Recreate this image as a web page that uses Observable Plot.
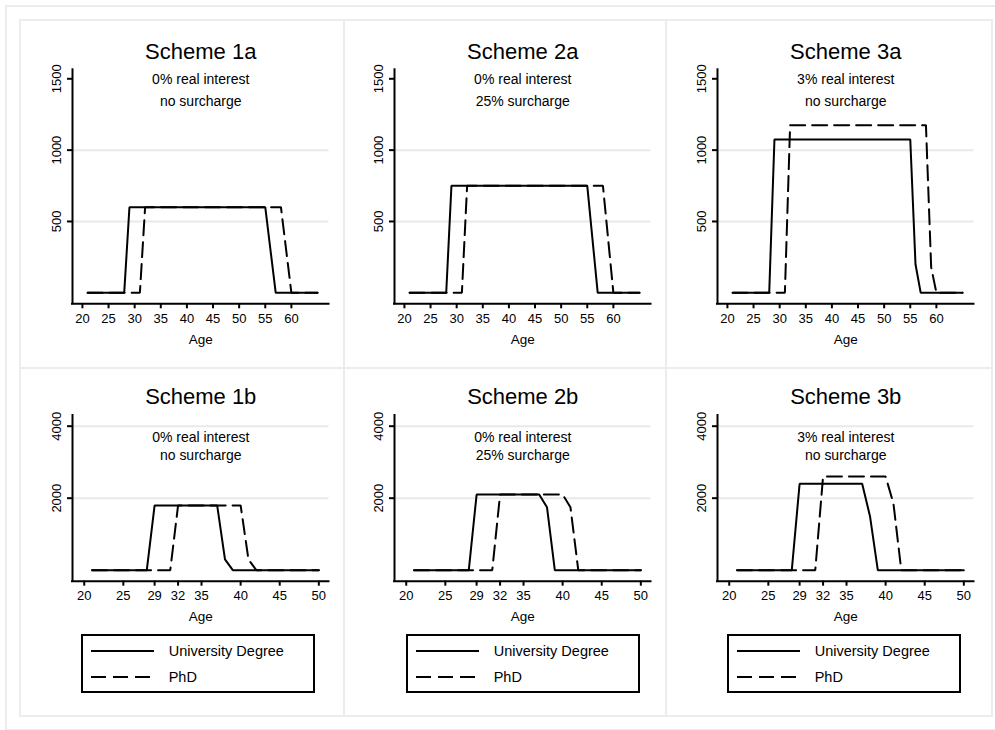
<!DOCTYPE html>
<html>
<head>
<meta charset="utf-8">
<script src="https://cdn.jsdelivr.net/npm/d3@7"></script>
<script src="https://cdn.jsdelivr.net/npm/@observablehq/plot@0.6"></script>
<style>
  html, body { margin: 0; padding: 0; background: #fff; }
  body { font-family: "Liberation Sans", Arial, Helvetica, sans-serif; }
  #root { position: relative; width: 995px; height: 730px; overflow: hidden; background: #fff; }
  .box { position: absolute; box-sizing: border-box; border: 2px solid #ececec; }
  .panel { position: absolute; }
  .legend { position: absolute; box-sizing: border-box; border: 2px solid #000; background: #fff; }
  .legend svg { position: absolute; left: 0; top: 0; }
  .legend span { position: absolute; font-size: 14.5px; line-height: 16px; color: #000; }
</style>
</head>
<body>
<div id="root"></div>
<script>
// ---------- data ----------
const agesTop = [21,22,23,24,25,26,27,28,29,30,31,32,33,34,35,36,37,38,39,40,41,42,43,44,45,46,47,48,49,50,51,52,53,54,55,56,57,58,59,60,61,62,63,64,65];
const agesBottom = [21,22,23,24,25,26,27,28,29,30,31,32,33,34,35,36,37,38,39,40,41,42,43,44,45,46,47,48,49,50];

// Scheme 1a (University Degree / PhD), ages 21..65
const uni1a = [0,0,0,0,0,0,0,0,
  600,600,600,600,600,600,600,600,600,
  600,600,600,600,600,600,600,600,600,
  600,600,600,600,600,600,600,600,600,
  300, 0,0,0,0,0,0,0,0,0];
const phd1a = [0,0,0,0,0,0,0,0,0,0,0,
  600,600,600,600,600,600,600,600,600,
  600,600,600,600,600,600,600,600,600,
  600,600,600,600,600,600,600,600,600,
  300, 0,0,0,0,0,0];
// Scheme 2a
const uni2a = [0,0,0,0,0,0,0,0,
  750,750,750,750,750,750,750,750,750,
  750,750,750,750,750,750,750,750,750,
  750,750,750,750,750,750,750,750,750,
  375, 0,0,0,0,0,0,0,0,0];
const phd2a = [0,0,0,0,0,0,0,0,0,0,0,
  750,750,750,750,750,750,750,750,750,
  750,750,750,750,750,750,750,750,750,
  750,750,750,750,750,750,750,750,750,
  375, 0,0,0,0,0,0];
// Scheme 3a
const uni3a = [0,0,0,0,0,0,0,0,
  1075,1075,1075,1075,1075,1075,1075,1075,1075,
  1075,1075,1075,1075,1075,1075,1075,1075,1075,
  1075,1075,1075,1075,1075,1075,1075,1075,1075,
  200, 0,0,0,0,0,0,0,0,0];
const phd3a = [0,0,0,0,0,0,0,0,0,0,0,
  1175,1175,1175,1175,1175,1175,1175,1175,1175,
  1175,1175,1175,1175,1175,1175,1175,1175,1175,
  1175,1175,1175,1175,1175,1175,1175,1175,1175,
  180, 0,0,0,0,0,0];
// Scheme 1b, ages 21..50
const uni1b = [0,0,0,0,0,0,0,0, 1800,1800,1800,1800,1800,1800,1800,1800,1800, 300, 0,0,0,0,0,0,0,0,0,0,0,0];
const phd1b = [0,0,0,0,0,0,0,0,0,0,0, 1800,1800,1800,1800,1800,1800,1800,1800,1800, 300, 0,0,0,0,0,0,0,0,0];
// Scheme 2b
const uni2b = [0,0,0,0,0,0,0,0, 2100,2100,2100,2100,2100,2100,2100,2100,2100, 1750, 0,0,0,0,0,0,0,0,0,0,0,0];
const phd2b = [0,0,0,0,0,0,0,0,0,0,0, 2100,2100,2100,2100,2100,2100,2100,2100,2100, 1750, 0,0,0,0,0,0,0,0,0];
// Scheme 3b
const uni3b = [0,0,0,0,0,0,0,0, 2400,2400,2400,2400,2400,2400,2400,2400,2400, 1500, 0,0,0,0,0,0,0,0,0,0,0,0];
const phd3b = [0,0,0,0,0,0,0,0,0,0,0, 2600,2600,2600,2600,2600,2600,2600,2600,2600, 1850, 0,0,0,0,0,0,0,0,0];

const titles = ["Scheme 1a","Scheme 2a","Scheme 3a","Scheme 1b","Scheme 2b","Scheme 3b"];
const interestNotes = ["0% real interest","0% real interest","3% real interest","0% real interest","0% real interest","3% real interest"];
const surchargeNotes = ["no surcharge","25% surcharge","no surcharge","no surcharge","25% surcharge","no surcharge"];

const xTicksTop = [20,25,30,35,40,45,50,55,60];
const xTicksBottom = [20,25,29,32,35,40,45,50];
const yTicksTop = [500,1000,1500];
const yGridTop = [500,1000];
const yTicksBottom = [2000,4000];
const yGridBottom = [2000,4000];

const seriesNames = ["University Degree","PhD"];
const xLabel = "Age";

// ---------- layout ----------
const root = document.getElementById("root");
function addBox(l, t, w, h) {
  const d = document.createElement("div");
  d.className = "box";
  Object.assign(d.style, {left: l + "px", top: t + "px", width: w + "px", height: h + "px"});
  root.appendChild(d);
}
addBox(5, 5, 1010, 726);
const colEdges = [20, 344, 666, 992];
const rowEdges = [20, 368, 716];
for (let r = 0; r < 2; r++) for (let c = 0; c < 3; c++)
  addBox(colEdges[c] - 1, rowEdges[r] - 1, colEdges[c+1] - colEdges[c] + 2, rowEdges[r+1] - rowEdges[r] + 2);

const axisX = [71.7, 394, 717.3];   // y-axis line position of each column
const ML = 52, MR = 15.5, W = 324;

const panels = [
  {ages: agesTop, uni: uni1a, phd: phd1a},
  {ages: agesTop, uni: uni2a, phd: phd2a},
  {ages: agesTop, uni: uni3a, phd: phd3a},
  {ages: agesBottom, uni: uni1b, phd: phd1b},
  {ages: agesBottom, uni: uni2b, phd: phd2b},
  {ages: agesBottom, uni: uni3b, phd: phd3b}
];

const rowCfg = [
  {top: 20, mt: 49.3, frame: 234, mb: 44.7, xDomain: [18.1, 67.2], yDomain: [-77, 1563],
   xTicks: xTicksTop, yTicks: yTicksTop, grid: yGridTop, titleDy: -17.6, sub1: 10, sub2: 31.4},
  {top: 368, mt: 47, frame: 165.7, mb: 45, xDomain: [18.5, 51.3], yDomain: [-306, 4297],
   xTicks: xTicksBottom, yTicks: yTicksBottom, grid: yGridBottom, titleDy: -18.3, sub1: 22.3, sub2: 40}
];

const FONT = '"Liberation Sans", Arial, Helvetica, sans-serif';

panels.forEach((p, i) => {
  const r = i < 3 ? 0 : 1, c = i % 3;
  const rc = rowCfg[r];
  const data = p.ages.map((a, k) => ({age: a, uni: p.uni[k], phd: p.phd[k]}));
  const chart = Plot.plot({
    width: W,
    height: rc.mt + rc.frame + rc.mb,
    marginLeft: ML, marginRight: MR, marginTop: rc.mt, marginBottom: rc.mb,
    style: {fontFamily: FONT, fontSize: "13px", background: "transparent", color: "#000", overflow: "visible"},
    x: {domain: rc.xDomain},
    y: {domain: rc.yDomain},
    marks: [
      Plot.gridY(rc.grid, {stroke: "#e9e9e9", strokeOpacity: 1, strokeWidth: 2}),
      Plot.axisX(rc.xTicks, {tickSize: 5, strokeWidth: 2, tickPadding: 5, label: null, tickFormat: d => String(d), fontSize: 13}),
      Plot.axisY(rc.yTicks, {tickSize: 5, strokeWidth: 2, tickRotate: -90, tickPadding: 7, label: null, tickFormat: d => String(d), fontSize: 13}),
      Plot.ruleX([rc.xDomain[0]], {stroke: "#000", strokeWidth: 2, strokeLinecap: "square"}),
      Plot.ruleY([rc.yDomain[0]], {stroke: "#000", strokeWidth: 2, strokeLinecap: "square"}),
      Plot.line(data, {x: "age", y: "uni", stroke: "#000", strokeWidth: 2, strokeLinejoin: "miter"}),
      Plot.line(data, {x: "age", y: "phd", stroke: "#000", strokeWidth: 2, strokeDasharray: "15,7", strokeLinejoin: "miter"}),
      Plot.text([titles[i]], {frameAnchor: "top", dy: rc.titleDy, lineAnchor: "middle", fontSize: 22, fill: "#000"}),
      Plot.text([interestNotes[i]], {frameAnchor: "top", dy: rc.sub1, lineAnchor: "middle", fontSize: 14, fill: "#000"}),
      Plot.text([surchargeNotes[i]], {frameAnchor: "top", dy: rc.sub2, lineAnchor: "middle", fontSize: 14, fill: "#000"}),
      Plot.text([xLabel], {frameAnchor: "bottom", dy: 35.5, lineAnchor: "middle", fontSize: 13.5, fill: "#000"})
    ]
  });
  const wrap = document.createElement("div");
  wrap.className = "panel";
  wrap.style.left = (axisX[c] - ML) + "px";
  wrap.style.top = rc.top + "px";
  wrap.appendChild(chart);
  root.appendChild(wrap);
});

// ---------- legends ----------
const legendLeft = [80.7, 405.7, 726.7];
legendLeft.forEach(l => {
  const lg = document.createElement("div");
  lg.className = "legend";
  Object.assign(lg.style, {left: l + "px", top: "634px", width: "234px", height: "59px"});
  const ns = "http://www.w3.org/2000/svg";
  const svg = document.createElementNS(ns, "svg");
  svg.setAttribute("width", "230");
  svg.setAttribute("height", "55");
  [[15, null], [41, "15,7"]].forEach(([y, dash]) => {
    const ln = document.createElementNS(ns, "line");
    ln.setAttribute("x1", 8); ln.setAttribute("x2", 71);
    ln.setAttribute("y1", y); ln.setAttribute("y2", y);
    ln.setAttribute("stroke", "#000"); ln.setAttribute("stroke-width", 2);
    if (dash) ln.setAttribute("stroke-dasharray", dash);
    svg.appendChild(ln);
  });
  lg.appendChild(svg);
  seriesNames.forEach((name, k) => {
    const s = document.createElement("span");
    s.textContent = name;
    s.style.left = "86px";
    s.style.top = (k === 0 ? 7 : 33) + "px";
    lg.appendChild(s);
  });
  root.appendChild(lg);
});
</script>
</body>
</html>
